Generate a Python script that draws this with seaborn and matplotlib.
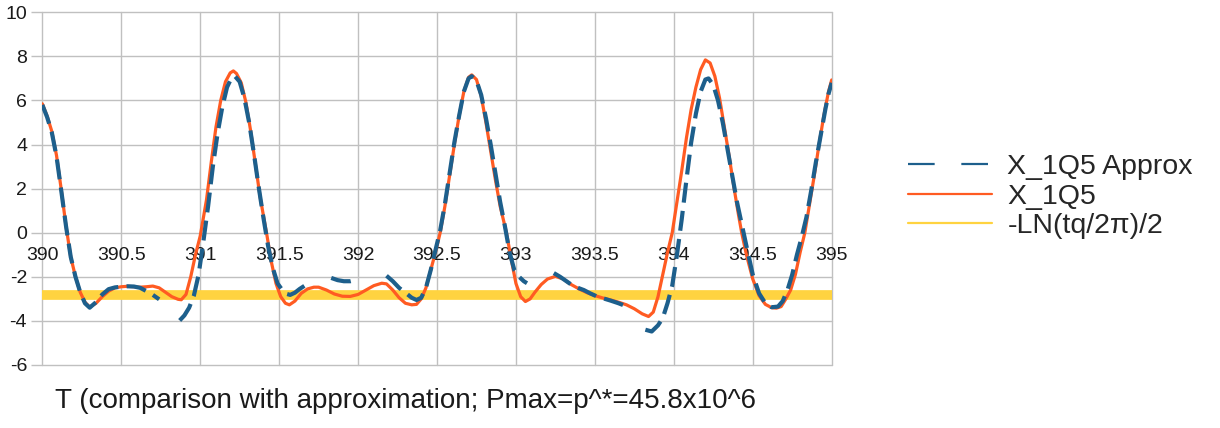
import numpy as np
import pandas as pd
import matplotlib
matplotlib.use("Agg")
import matplotlib.pyplot as plt
from matplotlib.lines import Line2D
import seaborn as sns

# ---------------- data ----------------
x1q5_t = [390.00, 390.03, 390.06, 390.09, 390.12, 390.15, 390.18, 390.21, 390.24, 390.27,
          390.30, 390.34, 390.38, 390.42, 390.46, 390.50, 390.54, 390.58, 390.62, 390.66,
          390.70, 390.74, 390.78, 390.82, 390.86, 390.88, 390.91, 390.94, 390.97, 391.00,
          391.04, 391.07, 391.10, 391.13, 391.16, 391.19, 391.21, 391.23, 391.26, 391.29,
          391.32, 391.35, 391.38, 391.42, 391.45, 391.48, 391.51, 391.54, 391.565, 391.60,
          391.64, 391.68, 391.72, 391.75, 391.80, 391.85, 391.90, 391.95, 392.00, 392.05,
          392.10, 392.15, 392.18, 392.22, 392.26, 392.30, 392.34, 392.37, 392.40, 392.43,
          392.46, 392.49, 392.52, 392.55, 392.58, 392.61, 392.64, 392.67, 392.70, 392.72,
          392.75, 392.78, 392.81, 392.84, 392.87, 392.90, 392.94, 392.97, 393.00, 393.03,
          393.06, 393.09, 393.12, 393.16, 393.20, 393.25, 393.30, 393.35, 393.40, 393.45,
          393.50, 393.55, 393.60, 393.65, 393.70, 393.75, 393.80, 393.84, 393.87, 393.90,
          393.93, 393.96, 393.99, 394.02, 394.05, 394.08, 394.11, 394.14, 394.17, 394.20,
          394.23, 394.26, 394.29, 394.32, 394.35, 394.38, 394.41, 394.43, 394.46, 394.50,
          394.54, 394.58, 394.62, 394.65, 394.68, 394.71, 394.74, 394.77, 394.80, 394.83,
          394.86, 394.89, 394.92, 394.95, 394.98, 395.00]
x1q5_val = [5.85, 5.3, 4.6, 3.5, 1.95, 0.3, -1.1, -2.0, -2.7, -3.15,
            -3.37, -3.2, -2.9, -2.65, -2.5, -2.45, -2.43, -2.45, -2.47, -2.45,
            -2.42, -2.5, -2.7, -2.9, -3.02, -3.04, -2.8, -2.0, -1.0, -0.15,
            1.5, 3.2, 4.8, 6.0, 6.85, 7.25, 7.34, 7.22, 6.8, 5.9,
            4.6, 3.1, 1.6, 0.0, -1.3, -2.3, -2.9, -3.2, -3.27, -3.1,
            -2.75, -2.55, -2.47, -2.47, -2.6, -2.78, -2.88, -2.89, -2.8, -2.6,
            -2.4, -2.29, -2.32, -2.6, -2.95, -3.2, -3.27, -3.25, -3.0, -2.5,
            -1.7, -0.9, 0.0, 1.2, 2.6, 4.0, 5.3, 6.4, 7.05, 7.16,
            6.95, 6.2, 5.0, 3.7, 2.4, 1.2, 0.0, -1.2, -2.3, -2.9,
            -3.12, -3.0, -2.7, -2.35, -2.1, -1.98, -2.1, -2.35, -2.55, -2.72,
            -2.85, -2.96, -3.05, -3.15, -3.27, -3.45, -3.68, -3.80, -3.6, -2.9,
            -1.9, -0.9, 0.0, 1.4, 2.8, 4.3, 5.6, 6.6, 7.4, 7.84,
            7.7, 7.1, 6.1, 4.8, 3.5, 2.1, 0.8, 0.0, -1.0, -2.1,
            -2.85, -3.25, -3.4, -3.42, -3.35, -3.0, -2.6, -1.9, -0.9, 0.0,
            1.3, 2.6, 4.0, 5.3, 6.4, 6.93]

approx_t = [390.00, 390.03, 390.06, 390.09, 390.12, 390.15, 390.18, 390.21, 390.24, 390.27,
            390.30, 390.34, 390.38, 390.42, 390.46, 390.50, 390.54, 390.58, 390.62, 390.66,
            390.70, 390.74,
            390.87, 390.90, 390.93, 390.96, 390.99, 391.02, 391.05, 391.08, 391.11, 391.14,
            391.17, 391.20, 391.22, 391.25, 391.28, 391.31, 391.34, 391.37, 391.40, 391.43,
            391.46, 391.49, 391.52, 391.55, 391.57, 391.60, 391.63, 391.66,
            391.83, 391.87, 391.91, 391.95, 391.98, 392.00,
            392.18, 392.22, 392.26, 392.30, 392.34, 392.37, 392.40, 392.43, 392.46, 392.49,
            392.52, 392.55, 392.58, 392.61, 392.64, 392.67, 392.70, 392.72, 392.75, 392.78,
            392.81, 392.84, 392.87, 392.90, 392.93, 392.96, 392.99, 393.02, 393.05, 393.07,
            393.24, 393.28, 393.32, 393.36, 393.40, 393.43, 393.47, 393.51, 393.55, 393.60,
            393.65, 393.70,
            393.82, 393.86, 393.90, 393.93, 393.96, 393.99, 394.02, 394.05, 394.08, 394.11,
            394.14, 394.17, 394.20, 394.22, 394.25, 394.28, 394.31, 394.34, 394.37, 394.40,
            394.43, 394.46, 394.50, 394.54, 394.58, 394.62, 394.66, 394.69, 394.72, 394.75,
            394.78, 394.81, 394.84, 394.87, 394.90, 394.93, 394.96, 394.98, 395.00]
approx_val = [5.8, 5.25, 4.55, 3.45, 1.9, 0.3, -1.1, -2.0, -2.7, -3.2,
              -3.4, -3.15, -2.8, -2.56, -2.48, -2.45, -2.43, -2.44, -2.5, -2.65,
              -2.82, -3.02,
              -3.98, -3.75, -3.4, -2.85, -1.9, -0.4, 1.2, 3.0, 4.5, 5.7,
              6.6, 7.05, 7.1, 6.85, 6.1, 5.0, 3.6, 2.1, 0.7, -0.6,
              -1.6, -2.3, -2.6, -2.78, -2.82, -2.72, -2.55, -2.41,
              -2.05, -2.15, -2.2, -2.2, -2.15, -2.08,
              -1.95, -2.2, -2.5, -2.72, -2.95, -3.05, -2.95, -2.5, -1.7, -0.8,
              0.1, 1.3, 2.7, 4.1, 5.3, 6.4, 7.0, 7.1, 6.9, 6.25,
              5.2, 4.0, 2.7, 1.4, 0.3, -0.9, -1.7, -2.0, -2.2, -2.29,
              -1.83, -2.0, -2.2, -2.4, -2.52, -2.6, -2.75, -2.88, -2.97, -3.08,
              -3.2, -3.34,
              -4.40, -4.48, -4.2, -3.87, -3.2, -2.4, -1.0, 0.6, 2.4, 4.1,
              5.4, 6.4, 6.95, 7.0, 6.7, 6.0, 5.0, 3.8, 2.6, 1.4,
              0.4, -0.6, -1.9, -2.75, -3.2, -3.38, -3.35, -3.1, -2.6, -1.9,
              -1.0, -0.2, 0.7, 1.9, 3.2, 4.4, 5.6, 6.3, 6.8]
approx_piece = ([1] * 22 + [2] * 28 + [3] * 6 + [4] * 30 + [5] * 12 + [6] * 39)

ln_t = [390.0, 395.0]
ln_val = [-2.83, -2.83]

x_ticks = [390, 390.5, 391, 391.5, 392, 392.5, 393, 393.5, 394, 394.5, 395]
x_tick_labels = ["390", "390.5", "391", "391.5", "392", "392.5", "393", "393.5", "394", "394.5", "395"]
y_ticks = [-6, -4, -2, 0, 2, 4, 6, 8, 10]

labels = ["X_1Q5 Approx", "X_1Q5", "-LN(tq/2\u03c0)/2"]
c_blue = "#1d5f8c"
c_orange = "#ff5b22"
c_yellow = "#ffd340"

# ---------------- plot ----------------
sns.set_theme(style="white")
plt.rcParams["font.family"] = ["Liberation Sans", "DejaVu Sans"]
plt.rcParams["axes.unicode_minus"] = False

fig = plt.figure(figsize=(12.2, 4.28), dpi=100)
ax = fig.add_axes([0.0347, 0.1472, 0.6470, 0.8241])

df_ln = pd.DataFrame({"t": ln_t, "v": ln_val})
df_o = pd.DataFrame({"t": x1q5_t, "v": x1q5_val})
df_a = pd.DataFrame({"t": approx_t, "v": approx_val, "piece": approx_piece})

sns.lineplot(data=df_ln, x="t", y="v", ax=ax, color=c_yellow, lw=7, zorder=2,
             solid_capstyle="butt", legend=False)
sns.lineplot(data=df_o, x="t", y="v", ax=ax, color=c_orange, lw=2.3, zorder=3,
             sort=False, estimator=None, legend=False)
sns.lineplot(data=df_a, x="t", y="v", units="piece", estimator=None, sort=False, ax=ax,
             color=c_blue, lw=3.0, zorder=4, legend=False)
for ln in ax.lines[2:]:
    ln.set_dashes((4.8, 2.0))
    ln.set_dash_capstyle("butt")

ax.set_xlim(390, 395)
ax.set_ylim(-6, 10)
ax.set_xticks(x_ticks)
ax.set_xticklabels(x_tick_labels)
ax.set_yticks(y_ticks)
ax.grid(True, color="#c0c0c0", lw=1.0)
ax.set_axisbelow(True)
for s in ["top", "right", "left"]:
    ax.spines[s].set_visible(False)
ax.spines["bottom"].set_position(("data", 0))
ax.spines["bottom"].set_visible(False)
ax.tick_params(axis="x", length=0, pad=10, labelsize=14, colors="#1a1a1a")
ax.tick_params(axis="y", length=8, width=1.0, color="#c0c0c0", pad=3, labelsize=14,
               labelcolor="#1a1a1a", left=True)
ax.set_xlabel("")
ax.set_ylabel("")
for gl in ax.get_xgridlines() + ax.get_ygridlines():
    gl.set_clip_on(False)

fig.text(0.045, 0.063, "T (comparison with approximation; Pmax=p^*=45.8x10^6",
         fontsize=20, color="#1a1a1a", ha="left", va="center")

handles = [Line2D([], [], color=c_blue, lw=1.6, dashes=(12, 12)),
           Line2D([], [], color=c_orange, lw=1.6),
           Line2D([], [], color=c_yellow, lw=1.6)]
fig.legend(handles, labels, loc="center left", bbox_to_anchor=(0.744, 0.54),
           frameon=False, fontsize=20.5, handlelength=2.95, handletextpad=0.55,
           labelspacing=0.12, borderaxespad=0, borderpad=0)

fig.savefig("out.png", dpi=100)
